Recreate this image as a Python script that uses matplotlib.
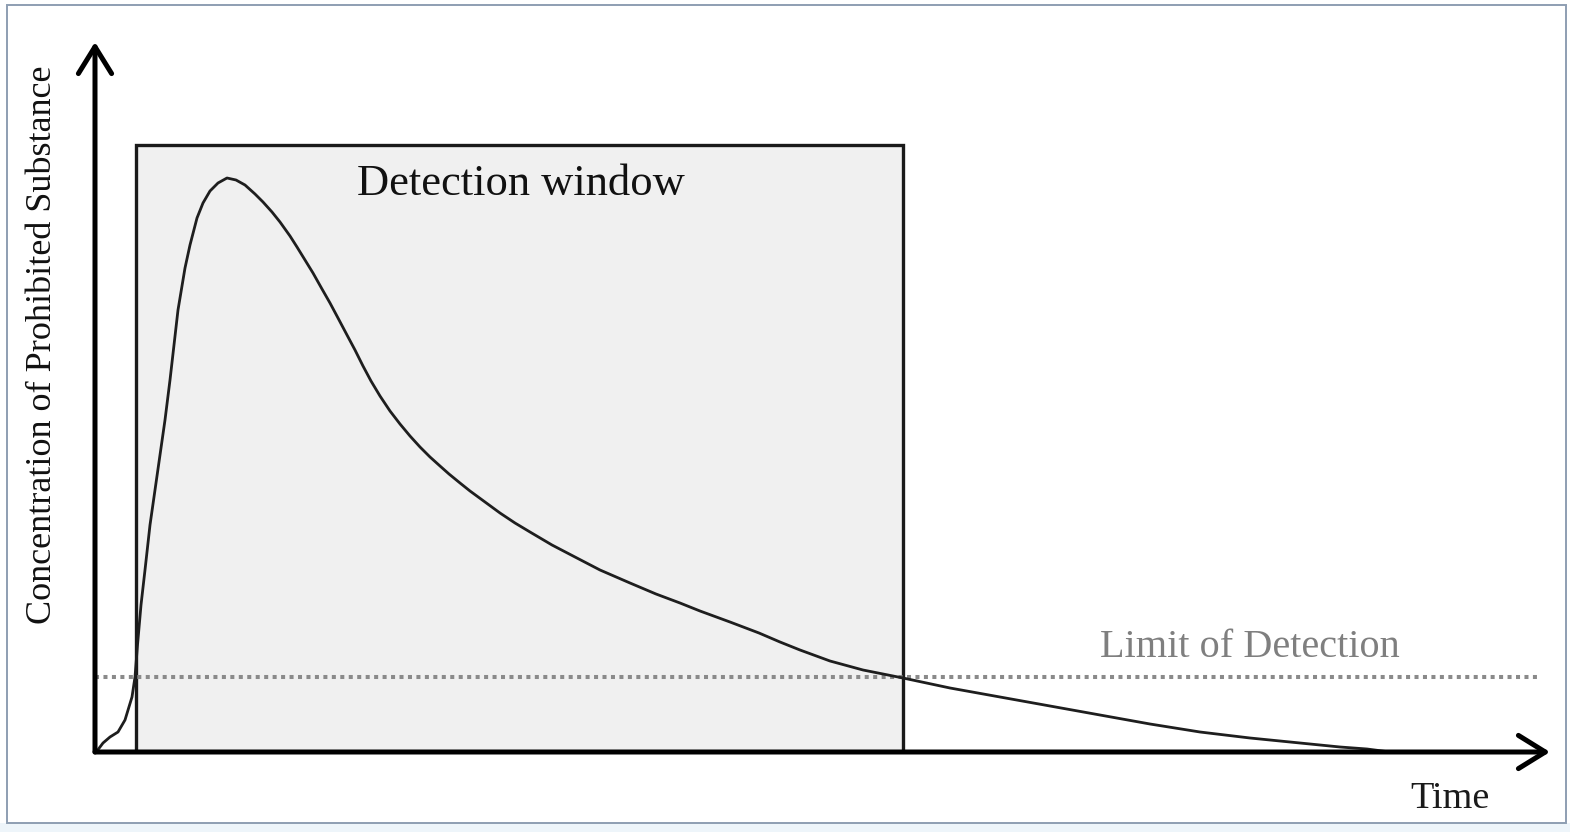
import matplotlib
matplotlib.use("Agg")
import matplotlib.pyplot as plt
from matplotlib.patches import Rectangle

# ---- data (in pixel-derived units) ----
# time axis: 0..100 ; concentration axis: 0..100
curve_px_x = [95, 97, 103, 110, 118, 125, 132, 135, 137.5, 141, 145, 150, 155, 160, 165,
              170, 178, 185, 190, 197, 203, 210, 218, 227, 236, 245, 255, 263, 272, 280,
              290, 297, 305, 313, 322, 330, 338, 347, 355, 363, 371, 380, 390, 400, 410,
              420, 430, 440, 449, 460, 470, 485, 500, 515, 530, 552, 575, 600, 630, 656,
              680, 700, 730, 759, 780, 800, 830, 863, 903, 950, 1000, 1050, 1100, 1150,
              1200, 1250, 1300, 1340, 1367, 1390]
curve_px_y = [752, 751, 743, 737, 732, 720, 697, 677, 645, 605, 570, 525, 490, 455, 420,
              380, 310, 268, 245, 218, 203, 191, 183, 178, 180, 185, 194, 202, 212, 222,
              236, 247, 260, 273, 289, 303, 318, 335, 350, 366, 381, 396, 411, 424, 436,
              447, 457, 466, 474, 483, 491, 502, 513, 523, 532, 545, 557, 570, 583, 594,
              603, 611, 622, 633, 642, 650, 661, 670, 678, 688, 697, 706, 715, 724, 732,
              738, 743, 747, 749, 752]

window_start, window_end, window_top = 2.82, 55.53, 85.49
limit_of_detection = 10.56
lod_end = 99.3

title_text = "Detection window"
lod_text = "Limit of Detection"
x_label = "Time"
y_label = "Concentration of Prohibited Substance"

W, H = 1570, 832
x0, y0, x1, y1 = 95, 752, 1550, 42
sx = (x1 - x0) / 100.0
sy = (y0 - y1) / 100.0
time = [(p - x0) / sx for p in curve_px_x]
concentration = [(y0 - p) / sy for p in curve_px_y]

fig = plt.figure(figsize=(W / 100, H / 100), dpi=100)
fig.patch.set_facecolor("white")

# figure border and pale strip at the bottom
fig.patches.append(Rectangle((0, 0), 1, 1 - 823 / H, transform=fig.transFigure,
                             facecolor="#eef5fa", edgecolor="none", zorder=0))
fig.patches.append(Rectangle((7 / W, 1 - 823 / H), (1566 - 7) / W, (823 - 5) / H,
                             transform=fig.transFigure, facecolor="none",
                             edgecolor="#8e9eb2", lw=1.4, zorder=1))

ax = fig.add_axes([x0 / W, 1 - y0 / H, (x1 - x0) / W, (y0 - y1) / H])
ax.set_xlim(0, 100)
ax.set_ylim(0, 100)
ax.axis("off")
ax.patch.set_alpha(0)

serif = ["Liberation Serif", "DejaVu Serif"]

# detection window box
ax.add_patch(Rectangle((window_start, 0), window_end - window_start, window_top,
                       facecolor="#f0f0f0", edgecolor="#1a1a1a", lw=2.4, zorder=2))

# limit of detection
ax.plot([0, lod_end], [limit_of_detection, limit_of_detection], color="#8a8a8a",
        lw=2.9, linestyle=(0, (1, 1.1)), dash_capstyle="butt", zorder=3, clip_on=False)

# curve
ax.plot(time, concentration, color="#1e1e1e", lw=2.0, zorder=4,
        solid_joinstyle="round", solid_capstyle="round", clip_on=False)

# axes arrows
arrow_kw = dict(arrowstyle="->,head_length=0.42,head_width=0.26", lw=3.6,
                color="black", shrinkA=0, shrinkB=0, mutation_scale=46)
ax.annotate("", xy=(100, 0), xytext=(0, 0), arrowprops=arrow_kw,
            annotation_clip=False, zorder=5)
ax.annotate("", xy=(0, 100), xytext=(0, 0), arrowprops=arrow_kw,
            annotation_clip=False, zorder=5)

# texts
ax.text(29.25, 78.45, title_text, family=serif, fontsize=32, color="#111111",
        ha="center", va="baseline", zorder=6)
ax.text(79.4, 13.38, lod_text, family=serif, fontsize=29, color="#7f7f7f",
        ha="center", va="baseline", zorder=6)
ax.text(93.1, -7.9, x_label, family=serif, fontsize=27.5, color="#1a1a1a",
        ha="center", va="baseline", zorder=6, clip_on=False)
ax.text(-3.6, 57.3, y_label, family=serif, fontsize=26, color="#111111",
        ha="center", va="center", rotation=90, zorder=6, clip_on=False)

fig.savefig("out.png", dpi=100)
